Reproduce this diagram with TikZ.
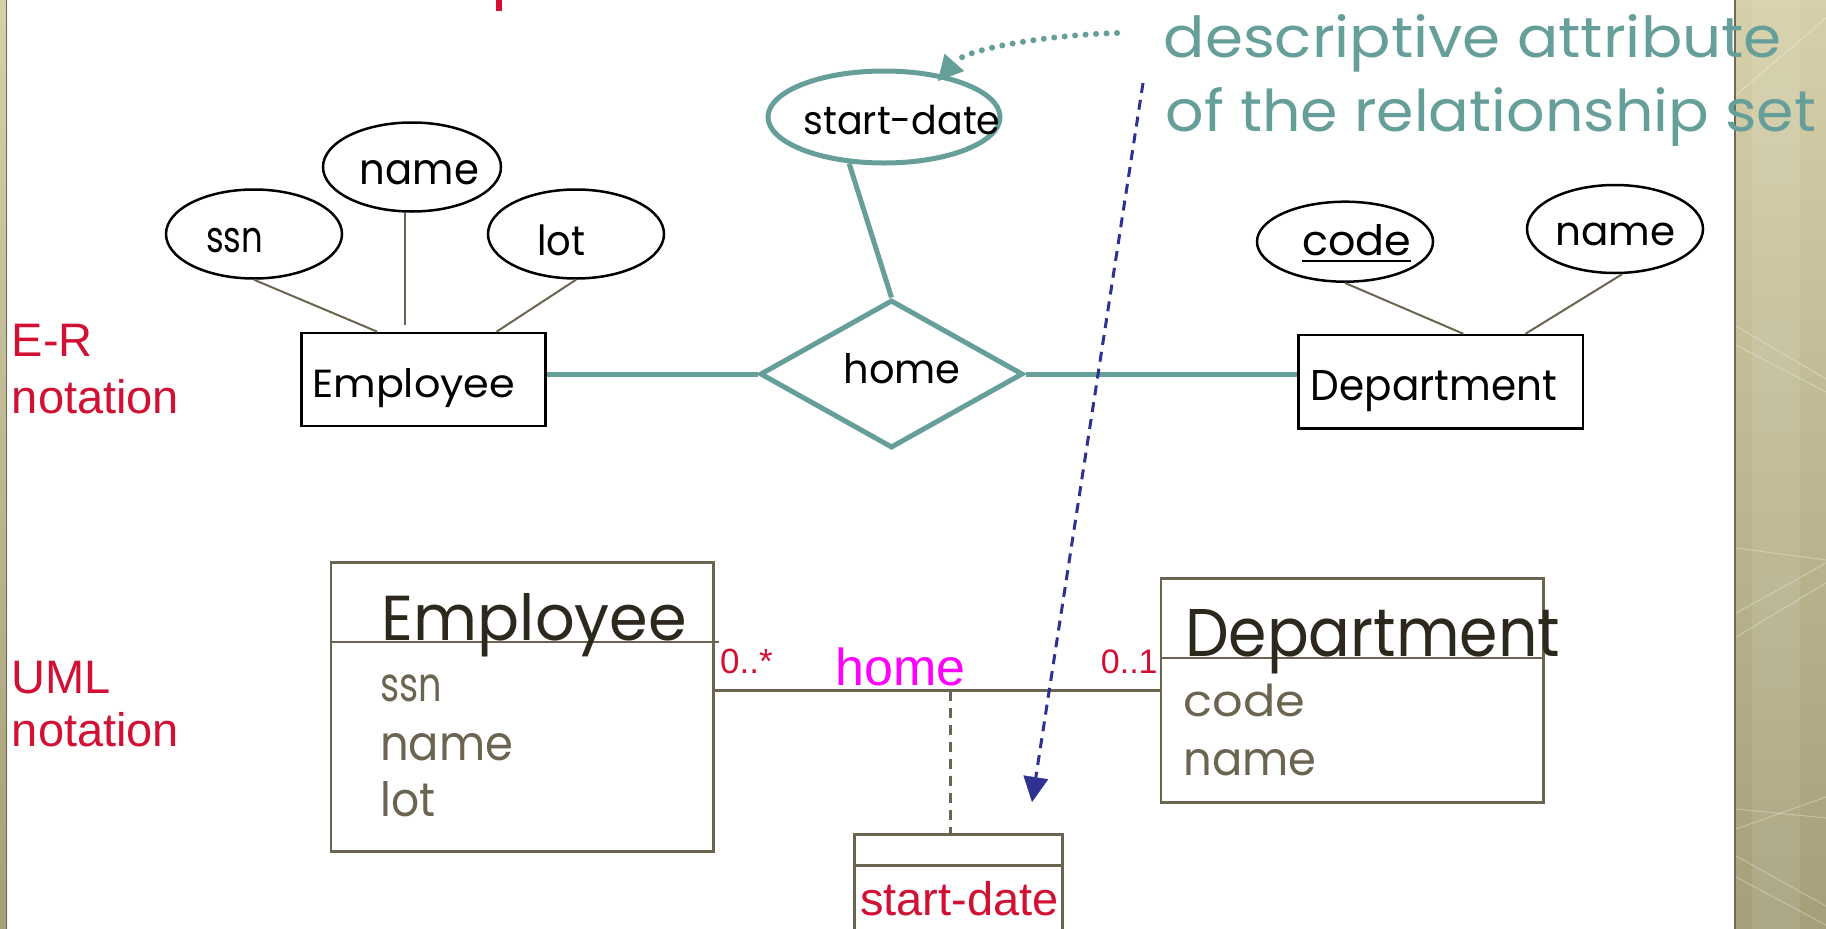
\documentclass[tikz,border=0pt]{standalone}
\usepackage{fontspec}
\setmainfont{Liberation Sans}
\newfontfamily\cg{Poppins}
\usepackage{graphicx}
\usetikzlibrary{shapes.geometric,arrows.meta}
\definecolor{tealc}{RGB}{102,158,154}
\definecolor{olivec}{RGB}{107,100,80}
\definecolor{darkc}{RGB}{45,40,30}
\definecolor{crimc}{RGB}{210,16,52}
\definecolor{navyc}{RGB}{46,49,146}
\definecolor{magc}{RGB}{255,0,255}
\definecolor{beigeT}{RGB}{214,208,170}
\definecolor{beigeB}{RGB}{166,160,122}
\definecolor{stripc}{RGB}{110,106,88}
\newcommand\fw[3]{\resizebox{#1pt}{#2pt}{#3}}
\tikzset{
  txt/.style={inner sep=0pt, anchor=base west},
  attr/.style={ellipse, draw=black, line width=2.5pt, inner sep=0pt},
  ebox/.style={rectangle, draw=black, line width=2.5pt, inner sep=0pt},
  conn/.style={draw=olivec, line width=2pt},
  tealline/.style={draw=tealc, line width=5pt},
  umlbox/.style={rectangle, draw=olivec, line width=2.5pt, inner sep=0pt},
  umlline/.style={draw=olivec, line width=2.5pt},
  faint/.style={draw=white, opacity=0.3, line width=1pt}
}
\begin{document}
\begin{tikzpicture}[x=1pt,y=-1pt]
\useasboundingbox (0,0) rectangle (1826,929);
\clip (0,0) rectangle (1826,929);
\fill[white] (0,0) rectangle (1826,929);
% side strips
\shade[top color=beigeT, bottom color=beigeB] (0,0) rectangle (7,929);
\shade[top color=beigeT, bottom color=beigeB] (1736,0) rectangle (1826,929);
\fill[white, opacity=0.08] (1752,0) rectangle (1800,929);
\draw[faint] (1736,95) -- (1826,18);
\draw[faint] (1736,326) -- (1826,379);
\draw[faint] (1736,345) -- (1826,392);
\draw[faint] (1736,548) -- (1826,560);
\draw[faint] (1736,613) -- (1826,563);
\draw[faint] (1736,637) -- (1826,583);
\draw[faint] (1736,829) -- (1826,797);
\draw[faint] (1736,809) -- (1826,818);
\draw[faint] (1736,856) -- (1826,906);
\draw[faint] (1736,877) -- (1826,925);
\draw[stripc, line width=1.5pt] (6.7,0) -- (6.7,929);
\draw[stripc, line width=2pt] (1735,0) -- (1735,929);
% title fragment
\fill[crimc] (496,0) rectangle (502,11);

% ---------- E-R part ----------
\node[attr, minimum width=176pt, minimum height=89pt] (ssn) at (254,234) {};
\node[attr, minimum width=178pt, minimum height=89pt] (nameL) at (412,167) {};
\node[attr, minimum width=176pt, minimum height=89pt] (lot) at (576,234) {};
\node[ebox, minimum width=244pt, minimum height=93pt] (empER) at (423.4,379.4) {};
\node[txt] (tssn) at (206,252.7) {\fw{57}{24.3}{\cg ssn}};
\node[txt] (tnameL) at (359.7,184) {\fw{119}{24}{\cg name}};
\node[txt] (tlot) at (537,255.7) {\fw{48}{30.7}{\cg lot}};
\node[txt] (tempER) at (312,397.3) {\fw{203}{29}{\cg Employee}};

\node[ebox, minimum width=284.6pt, minimum height=93.3pt] (depER) at (1440.9,381.7) {};
\node[attr, minimum width=176pt, minimum height=80pt] (code) at (1345,241.7) {};
\node[attr, minimum width=176pt, minimum height=88pt] (nameR) at (1615,229) {};
\node[txt] (tcode) at (1301.8,255) {\fw{109}{31}{\cg code}};
\draw[line width=2.5pt] ([yshift=-6pt]tcode.base west) -- ([yshift=-6pt]tcode.base east);
\node[txt] (tnameR) at (1555,245) {\fw{120}{22.5}{\cg name}};
\node[txt] (tdepER) at (1310.7,400) {\fw{246}{30}{\cg Department}};

\node[diamond, draw=tealc, line width=5pt, minimum width=263pt, minimum height=148pt, inner sep=0pt, aspect=1.78] (rel) at (891.5,374) {};
\node[txt] (thome) at (843.3,383.3) {\fw{117}{30}{\cg home}};

\node[ellipse, draw=tealc, line width=5pt, minimum width=232pt, minimum height=92pt, inner sep=0pt] (sd) at (884,117) {};
\node[txt] (tsd) at (803.3,134.3) {\fw{197}{29.3}{\cg start-date}};

\draw[conn] (ssn.south) -- ([xshift=77pt]empER.north west);
\draw[conn] ([xshift=-7pt]nameL.south) -- ++(0,112);
\draw[conn] (lot.south) -- ([xshift=-50pt]empER.north east);
\draw[conn] (code.south) -- ([xshift=166pt]depER.north west);
\draw[conn] ([xshift=7pt]nameR.south) -- ([xshift=-59pt]depER.north east);
\draw[tealline] (rel.west -| empER.east) -- (rel.west);
\draw[tealline] (rel.east) -- (rel.east -| depER.west);
\draw[tealline] (sd.-127) -- (rel.north);

% notation labels
\node[txt, text=crimc, font=\fontsize{47}{47}\selectfont] (er1) at (11.7,356) {E-R};
\node[txt, text=crimc, font=\fontsize{47}{47}\selectfont] (er2) at (11.7,413.3) {notation};
\node[txt, text=crimc, font=\fontsize{47}{47}\selectfont] (uml1) at (11.7,693.3) {UML};
\node[txt, text=crimc, font=\fontsize{47}{47}\selectfont] (uml2) at (11.7,746.7) {notation};

% ---------- UML part ----------
\node[umlbox, minimum width=382.3pt, minimum height=289.4pt] (empU) at (522.15,707) {};
\draw[umlline] ([yshift=-81pt]empU.north west) -- ([yshift=-81pt,xshift=4pt]empU.north east);
\node[txt, text=darkc] (tempU) at (381.7,640.7) {\fw{305}{47}{\cg Employee}};
\node[txt, text=olivec] (tssnU) at (380,701.7) {\fw{61.7}{26.7}{\cg ssn}};
\node[txt, text=olivec] (tnameU) at (380,760) {\fw{133}{27}{\cg name}};
\node[txt, text=olivec] (tlotU) at (380,816.7) {\fw{55}{35}{\cg lot}};

\node[umlbox, minimum width=382.3pt, minimum height=224.4pt] (depU) at (1352.15,690.5) {};
\draw[umlline] ([yshift=-80.7pt]depU.north west) -- ([yshift=-80.7pt]depU.north east);
\node[txt, text=darkc] (tdepU) at (1185,656.7) {\fw{375}{47}{\cg Department}};
\node[txt, text=olivec] (tcodeU) at (1183.3,716.7) {\fw{121.7}{32.5}{\cg code}};
\node[txt, text=olivec] (tnameU2) at (1183.3,775) {\fw{133}{26}{\cg name}};

\node[umlbox, minimum width=208.4pt, minimum height=115.7pt] (sdU) at (958.5,892.2) {};
\draw[umlline] ([yshift=-32.4pt]sdU.north west) -- ([yshift=-32.4pt]sdU.north east);
\node[txt, text=crimc, font=\fontsize{47}{47}\selectfont] (tsdU) at (860,915) {start-date};

\coordinate (assoc) at (950.7,690.7);
\draw[umlline] (empU.east |- assoc) -- (depU.west |- assoc);
\draw[umlline, dash pattern=on 10pt off 7pt] (assoc) -- (assoc |- sdU.north);
\node[txt, text=crimc, font=\fontsize{35}{35}\selectfont] (m1) at (720,673) {0..*};
\node[txt, text=crimc, font=\fontsize{34}{34}\selectfont] (m2) at (1100.7,673.3) {0..1};
\node[txt, text=magc, font=\fontsize{52}{52}\selectfont] (homeU) at (835,685) {home};

% ---------- annotation ----------
\node[txt, text=tealc] (desc1) at (1163.5,57) {\fw{618}{43}{\cg descriptive attribute}};
\node[txt, text=tealc] (desc2) at (1165.7,131) {\fw{650}{44}{\cg of the relationship set}};
\coordinate (dstart) at (1117,33);
\draw[tealc, line width=6pt, line cap=round, dash pattern=on 0pt off 10.5pt,
  -{Triangle[length=25pt,width=26pt,line width=0.5pt]}]
  (dstart) .. controls (1050,35) and (967,48) .. ([xshift=-6pt,yshift=-6pt]sd.35);
\coordinate (bstart) at (1143,83);
\coordinate (btip) at (1032,802);
\draw[navyc, line width=3pt, dash pattern=on 10pt off 7pt,
  -{Triangle[length=25pt,width=25pt,line width=0.5pt]}] (bstart) -- (btip);
\end{tikzpicture}
\end{document}
